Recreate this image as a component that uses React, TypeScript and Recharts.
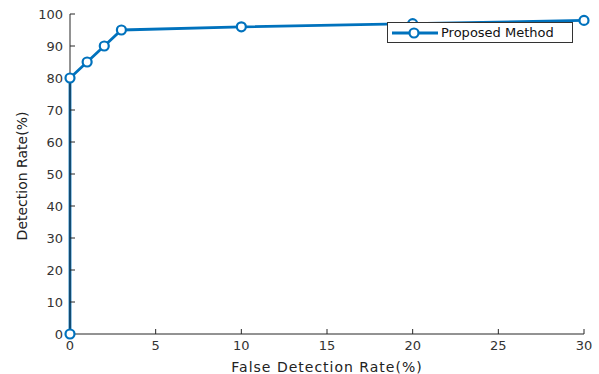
import {
  LineChart,
  Line,
  XAxis,
  YAxis,
  Label,
} from 'recharts';

const falseRate = [0, 0, 1, 2, 3, 10, 20, 30];
const detectionRate = [0, 80, 85, 90, 95, 96, 97, 98];
const xTicks = [0, 5, 10, 15, 20, 25, 30];
const yTicks = [0, 10, 20, 30, 40, 50, 60, 70, 80, 90, 100];
const seriesName = 'Proposed Method';

const BLUE = '#0072BD';
const AXIS = '#262626';
const FONT = '"DejaVu Sans", "Liberation Sans", Arial, sans-serif';

const chartData = falseRate.map((x, i) => ({ x, y: detectionRate[i] }));

function LegendBox() {
  return (
    <div
      style={{
        position: 'absolute',
        left: 387,
        top: 22,
        display: 'flex',
        alignItems: 'center',
        border: '1px solid #333',
        background: '#fff',
        width: 186,
        height: 21,
        boxSizing: 'border-box',
        fontFamily: FONT,
        fontSize: 13,
        color: '#111',
      }}
    >
      <svg width={52} height={18}>
        <line x1={4} y1={9} x2={50} y2={9} stroke={BLUE} strokeWidth={2.8} />
        <circle cx={26} cy={9} r={4.5} fill="#fff" stroke={BLUE} strokeWidth={2.2} />
      </svg>
      <span style={{ marginLeft: 1 }}>{seriesName}</span>
    </div>
  );
}

export default function App() {
  return (
    <div style={{ position: 'absolute', left: 0, top: 0, width: 599, height: 374, background: '#fff' }}>
      <LineChart
        width={599}
        height={374}
        data={chartData}
        margin={{ top: 14, right: 15, bottom: 0, left: 0 }}
      >
        <XAxis
          type="number"
          dataKey="x"
          domain={[0, 30]}
          ticks={xTicks}
          height={40}
          stroke={AXIS}
          tickSize={-5}
          tickMargin={12}
          tick={{ fontSize: 13, fill: '#333', fontFamily: FONT }}
        >
          <Label
            value="False Detection Rate(%)"
            position="insideBottom"
            offset={2}
            style={{ fontSize: 14, fill: '#222', fontFamily: FONT, letterSpacing: 1 }}
          />
        </XAxis>
        <YAxis
          type="number"
          domain={[0, 100]}
          ticks={yTicks}
          width={70}
          stroke={AXIS}
          tickSize={-5}
          tickMargin={12}
          tick={{ fontSize: 13, fill: '#333', fontFamily: FONT }}
        >
          <Label
            content={({ viewBox }: any) => {
              const cy = viewBox.y + viewBox.height / 2 + 2;
              return (
                <text
                  x={22}
                  y={cy}
                  transform={`rotate(-90, 22, ${cy})`}
                  textAnchor="middle"
                  dominantBaseline="central"
                  style={{ fontSize: 14, fill: '#222', fontFamily: FONT }}
                >
                  Detection Rate(%)
                </text>
              );
            }}
          />
        </YAxis>
        <Line
          type="linear"
          dataKey="y"
          name={seriesName}
          stroke={BLUE}
          strokeWidth={2.8}
          dot={{ r: 4.5, fill: '#fff', stroke: BLUE, strokeWidth: 2.2 }}
          isAnimationActive={false}
        />
      </LineChart>
      <LegendBox />
    </div>
  );
}
